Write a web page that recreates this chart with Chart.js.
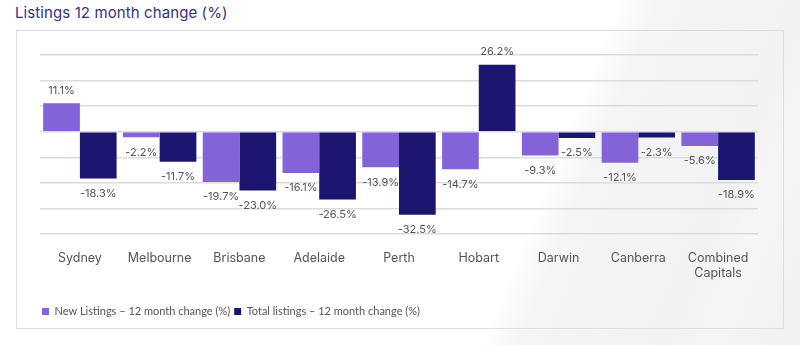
<!DOCTYPE html>
<html>
<head>
<meta charset="utf-8">
<script src="https://cdn.jsdelivr.net/npm/chart.js@4.4.1/dist/chart.umd.min.js"></script>
<style>
  html, body { margin: 0; padding: 0; }
  body {
    width: 800px; height: 345px; overflow: hidden; position: relative;
    background: linear-gradient(112deg, #ffffff 0%, #ffffff 66%, #f5f5f5 70%, #f2f2f2 86%, #f6f6f6 90%, #f0f0f0 100%);
    font-family: Inter, "Open Sans", sans-serif;
  }
  #title {
    position: absolute; left: 15px; top: 3px;
    font-size: 15px; color: #37317c; letter-spacing: 0.1px;
  }
  #box {
    position: absolute; left: 16px; top: 30px; width: 766px; height: 297px;
    border: 1.5px solid #dcdce2;
  }
  #wrap { position: absolute; left: 0; top: 0; width: 800px; height: 345px; }
</style>
</head>
<body>
<div id="title">Listings 12 month change (%)</div>
<div id="box"></div>
<div id="wrap"><canvas id="chart"></canvas></div>
<script>
const cities = ['Sydney', 'Melbourne', 'Brisbane', 'Adelaide', 'Perth', 'Hobart', 'Darwin', 'Canberra', ['Combined', 'Capitals']];
const newListings = [11.1, -2.2, -19.7, -16.1, -13.9, -14.7, -9.3, -12.1, -5.6];
const totalListings = [-18.3, -11.7, -23.0, -26.5, -32.5, 26.2, -2.5, -2.3, -18.9];

// value labels above positive bars, below negative ones
const barLabels = {
  id: 'barLabels',
  afterDatasetsDraw(chart) {
    const ctx = chart.ctx;
    ctx.save();
    ctx.font = '11px Inter, sans-serif';
    ctx.fillStyle = '#555';
    ctx.textAlign = 'center';
    ctx.textBaseline = 'middle';
    chart.data.datasets.forEach((ds, i) => {
      chart.getDatasetMeta(i).data.forEach((bar, j) => {
        const v = ds.data[j];
        const y = v >= 0 ? bar.y - 13 : bar.y + 15;
        ctx.fillText(v.toFixed(1) + '%', bar.x, y);
      });
    });
    ctx.restore();
  }
};

new Chart(document.getElementById('chart'), {
  type: 'bar',
  data: {
    labels: cities,
    datasets: [
      { label: 'New Listings – 12 month change (%)', data: newListings, backgroundColor: '#8462d8' },
      { label: 'Total listings – 12 month change (%)', data: totalListings, backgroundColor: '#1b1570' }
    ]
  },
  options: {
    responsive: true,
    maintainAspectRatio: false,
    animation: false,
    categoryPercentage: 0.92,
    barPercentage: 1,
    layout: { padding: { left: 38, right: 42, top: 55, bottom: 18 } },
    scales: {
      x: {
        grid: { display: false },
        border: { display: false },
        ticks: { color: '#555', font: { family: 'Inter', size: 12.5 }, padding: 9, maxRotation: 0 },
        afterFit(scale) { scale.height += 12; }
      },
      y: {
        min: -40, max: 30,
        ticks: { display: false, stepSize: 10 },
        border: { display: false },
        grid: { color: '#dcdcdc', lineWidth: 1.5, drawTicks: false },
        afterFit(scale) { scale.width = 2; }
      }
    },
    plugins: {
      legend: {
        position: 'bottom',
        align: 'start',
        labels: {
          boxWidth: 7, boxHeight: 7, padding: 4,
          color: '#555',
          font: { family: 'Lato', size: 11 }
        }
      },
      tooltip: { enabled: false }
    }
  },
  plugins: [barLabels]
});
</script>
</body>
</html>
